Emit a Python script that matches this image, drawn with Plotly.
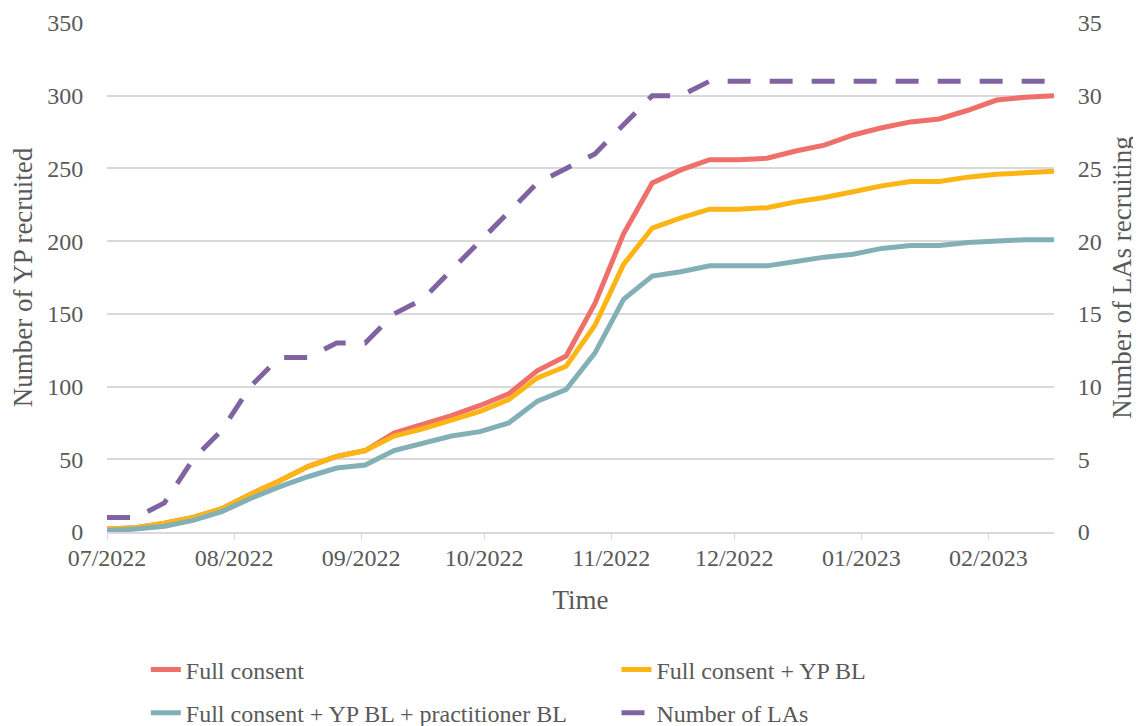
import plotly.graph_objects as go

# weekly snapshots (Fridays)
dates = ["2022-07-01", "2022-07-08", "2022-07-15", "2022-07-22", "2022-07-29",
         "2022-08-05", "2022-08-12", "2022-08-19", "2022-08-26",
         "2022-09-02", "2022-09-09", "2022-09-16", "2022-09-23", "2022-09-30",
         "2022-10-07", "2022-10-14", "2022-10-21", "2022-10-28",
         "2022-11-04", "2022-11-11", "2022-11-18", "2022-11-25",
         "2022-12-02", "2022-12-09", "2022-12-16", "2022-12-23", "2022-12-30",
         "2023-01-06", "2023-01-13", "2023-01-20", "2023-01-27",
         "2023-02-03", "2023-02-10", "2023-02-17"]

full_consent = [2, 3, 6, 10, 16, 26, 35, 45, 52, 56, 68, 74, 80, 87, 95, 111, 121,
                157, 205, 240, 249, 256, 256, 257, 262, 266, 273, 278, 282, 284,
                290, 297, 299, 300]
full_yp_bl = [2, 3, 6, 10, 16, 26, 35, 45, 52, 56, 66, 71, 77, 83, 91, 106, 114,
              142, 184, 209, 216, 222, 222, 223, 227, 230, 234, 238, 241, 241,
              244, 246, 247, 248]
full_yp_prac_bl = [1, 2, 4, 8, 14, 23, 31, 38, 44, 46, 56, 61, 66, 69, 75, 90, 98,
                   123, 160, 176, 179, 183, 183, 183, 186, 189, 191, 195, 197, 197,
                   199, 200, 201, 201]
num_las = [1, 1, 2, 5, 7, 10, 12, 12, 13, 13, 15, 16, 18, 20, 22, 24, 25, 26, 28,
           30, 30, 31, 31, 31, 31, 31, 31, 31, 31, 31, 31, 31, 31, 31]

FONT = "Liberation Serif"
SIZE = 24
TITLE_SIZE = 27
GREY = "#595959"
GRID = "#d9d9d9"

fig = go.Figure()
fig.add_trace(go.Scatter(x=dates, y=full_consent, name="Full consent", mode="lines",
                         line=dict(color="#EF6F6A", width=5), legend="legend"))
fig.add_trace(go.Scatter(x=dates, y=full_yp_bl, name="Full consent + YP BL", mode="lines",
                         line=dict(color="#FDB515", width=5), legend="legend2"))
fig.add_trace(go.Scatter(x=dates, y=full_yp_prac_bl, name="Full consent + YP BL + practitioner BL",
                         mode="lines", line=dict(color="#82B0B6", width=5), legend="legend3"))
fig.add_trace(go.Scatter(x=dates, y=num_las, name="Number of LAs", mode="lines", yaxis="y2",
                         line=dict(color="#8064A2", width=5, dash="23px,19px"), legend="legend4"))

leg = dict(orientation="h", bgcolor="rgba(0,0,0,0)", xanchor="left", yanchor="middle",
           font=dict(family=FONT, size=SIZE, color=GREY))
# page body has an 8px margin, so the figure is 8px smaller than the window
fig.update_layout(
    width=1133, height=718,
    margin=dict(l=99, r=87, t=15, b=194, autoexpand=False),
    paper_bgcolor="white", plot_bgcolor="white",
    font=dict(family=FONT, size=SIZE, color=GREY),
    showlegend=True,
    legend=dict(leg, x=0.041, y=-0.271),
    legend2=dict(leg, x=0.538, y=-0.271),
    legend3=dict(leg, x=0.041, y=-0.356),
    legend4=dict(leg, x=0.538, y=-0.356),
    xaxis=dict(
        type="date", range=["2022-07-01", "2023-02-17"], automargin=False,
        tick0="2022-07-01", dtick="M1", tickformat="%m/%Y",
        ticks="outside", ticklen=6, tickcolor=GRID, tickwidth=1,
        ticklabelstandoff=-3,
        showline=True, linecolor=GRID, linewidth=1.5, showgrid=False, zeroline=False,
        tickfont=dict(family=FONT, size=SIZE, color=GREY),
        title=dict(text="Time", font=dict(family=FONT, size=TITLE_SIZE, color=GREY), standoff=21),
    ),
    yaxis=dict(
        range=[0, 350], dtick=50, showgrid=True, gridcolor=GRID, gridwidth=1.5,
        automargin=False,
        zeroline=False, ticks="outside", ticklen=18, tickcolor="rgba(0,0,0,0)",
        tickfont=dict(family=FONT, size=SIZE, color=GREY),
        title=dict(text="Number of YP recruited", font=dict(family=FONT, size=TITLE_SIZE, color=GREY), standoff=12),
    ),
    yaxis2=dict(
        range=[0, 35], dtick=5, overlaying="y", side="right", showgrid=False, zeroline=False,
        automargin=False,
        ticks="outside", ticklen=18, tickcolor="rgba(0,0,0,0)",
        tickfont=dict(family=FONT, size=SIZE, color=GREY),
        title=dict(text="Number of LAs recruiting", font=dict(family=FONT, size=TITLE_SIZE, color=GREY), standoff=11),
    ),
)

fig.write_html("out.html")
